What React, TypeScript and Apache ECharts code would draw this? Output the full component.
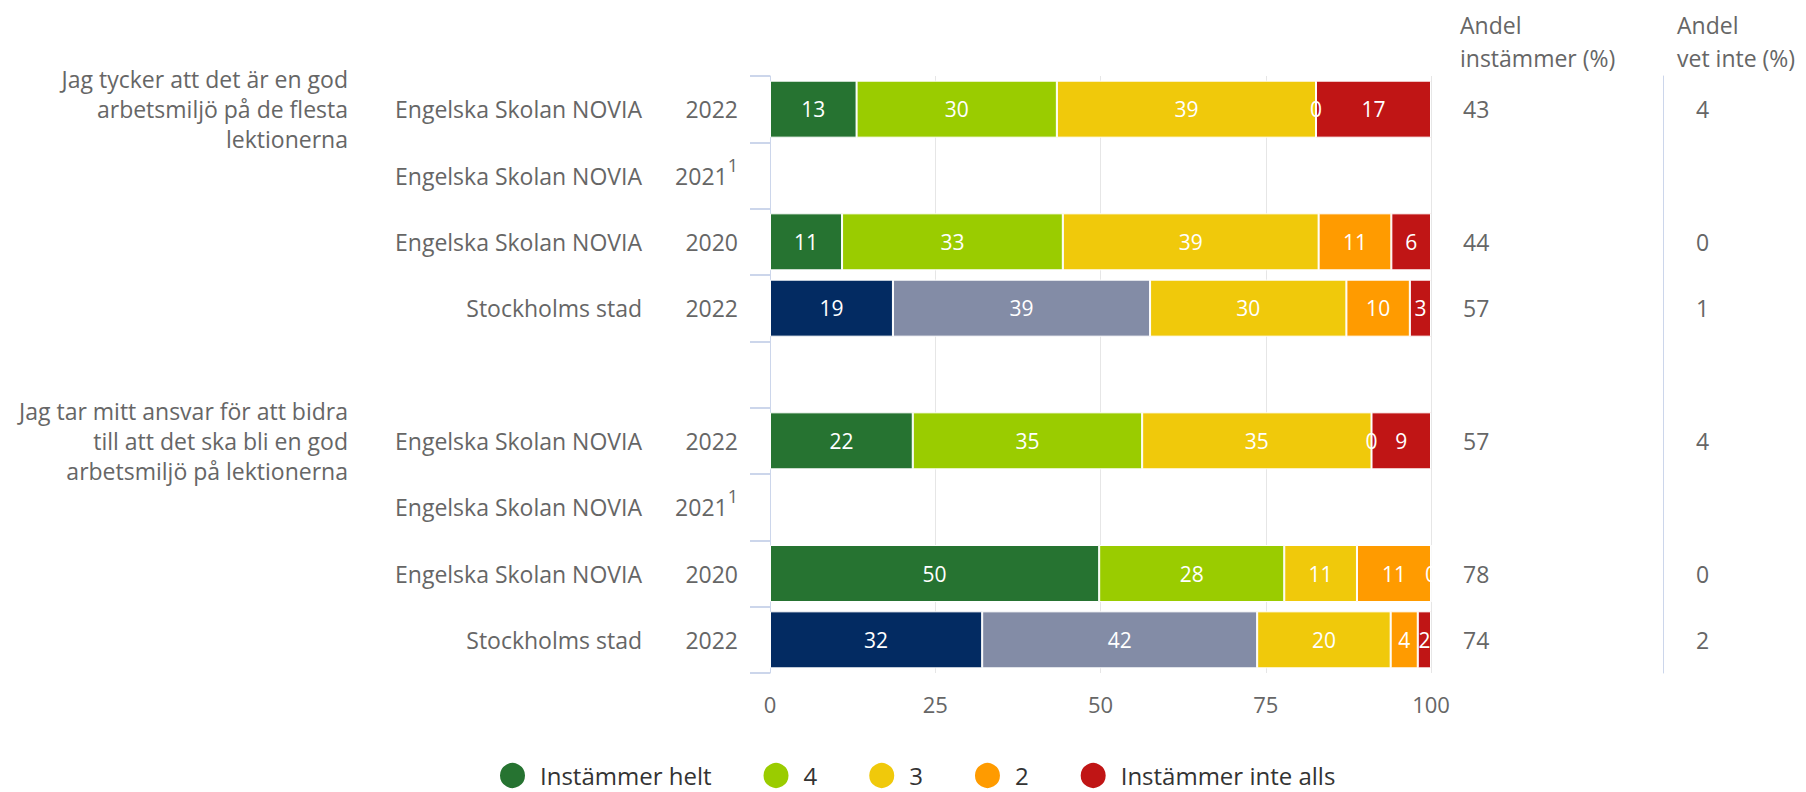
import React, { useEffect, useRef } from "react";
import * as echarts from "echarts";

const FONT = "Open Sans";
const TEXT = "#666666";

const rowKeys = ["r0", "r1", "r2", "r3", "r4", "r5", "r6", "r7", "r8"];
const groupLabels = [
  "Jag tycker att det är en god\narbetsmiljö på de flesta\nlektionerna",
  "", "", "", "",
  "Jag tar mitt ansvar för att bidra\ntill att det ska bli en god\narbetsmiljö på lektionerna",
  "", "", "",
];
const schoolLabels = [
  "Engelska Skolan NOVIA", "Engelska Skolan NOVIA", "Engelska Skolan NOVIA", "Stockholms stad", "",
  "Engelska Skolan NOVIA", "Engelska Skolan NOVIA", "Engelska Skolan NOVIA", "Stockholms stad",
];
const yearLabels = ["2022", "2021", "2020", "2022", "", "2022", "2021", "2020", "2022"];
const footnotes = ["", "1", "", "", "", "", "1", "", ""];
const agreeShare = ["43", "", "44", "57", "", "57", "", "78", "74"];
const dontKnowShare = ["4", "", "0", "1", "", "4", "", "0", "2"];

const seriesNames = ["Instämmer helt", "4", "3", "2", "Instämmer inte alls"];
const seriesColors = ["#267331", "#9acc00", "#f0c90b", "#ff9b00", "#c01515"];
const s1 = [13.1, null, 10.9, 18.6, null, 21.6, null, 49.8, 32.1];
const s2 = [30.3, null, 33.4, 38.9, null, 34.7, null, 28.0, 41.6];
const s3 = [39.2, null, 38.7, 29.7, null, 34.7, null, 11.0, 20.2];
const s4 = [0, null, 11.0, 9.6, null, 0, null, 11.2, 4.1];
const s5 = [17.4, null, 6.0, 3.2, null, 9.0, null, 0, 2.0];
const seriesValues = [s1, s2, s3, s4, s5];

// rows that are the city comparison (different colours for first two series)
const cityRows = [3, 8];
const cityColors = ["#032b62", "#838ca6"];

export default function App() {
  const ref = useRef<HTMLDivElement>(null);
  useEffect(() => {
    document.body.style.margin = "0";
    const chart = echarts.init(ref.current!, null, { renderer: "svg" });
    const catAxisBase = {
      type: "category",
      data: rowKeys,
      inverse: true,
      position: "left",
      splitLine: { show: false },
      axisLine: { show: false },
      axisTick: { show: false },
    };
    const labelBase = {
      interval: 0,
      color: TEXT,
      fontSize: 23,
      fontFamily: FONT,
    };
    const series = seriesValues.map((vals, si) => ({
      name: seriesNames[si],
      type: "bar",
      stack: "total",
      yAxisIndex: 0,
      barWidth: 57,
      itemStyle: { color: seriesColors[si], borderColor: "#ffffff", borderWidth: 1 },
      label: {
        show: true,
        position: "inside",
        color: "#ffffff",
        fontSize: 21,
        fontFamily: FONT,
        textBorderWidth: 0,
        formatter: (p: any) => String(Math.round(p.value)),
      },
      data: vals.map((v, i) => {
        if (v === null) return null;
        if (si < 2 && cityRows.includes(i)) {
          return { value: v, itemStyle: { color: cityColors[si] } };
        }
        return v;
      }),
    }));
    chart.setOption({
      animation: false,
      textStyle: { fontFamily: FONT },
      grid: {
        left: 770,
        right: 375,
        top: 76,
        bottom: 119,
        containLabel: false,
        outerBoundsMode: "none",
      },
      xAxis: {
        type: "value",
        min: 0,
        max: 100,
        interval: 25,
        axisLine: { show: false },
        axisTick: { show: false },
        splitLine: { show: true, lineStyle: { color: "#e6e6e6", width: 1 } },
        axisLabel: { color: TEXT, fontSize: 22, fontFamily: FONT, margin: 20 },
      },
      yAxis: [
        {
          ...catAxisBase,
          axisLine: { show: true, lineStyle: { color: "#ccd6eb", width: 1 } },
          axisTick: { show: true, length: 20, lineStyle: { color: "#ccd6eb", width: 2 } },
          axisLabel: {
            ...labelBase,
            margin: 32,
            formatter: (_v: any, i: number) =>
              yearLabels[i] + (footnotes[i] ? `{s|${footnotes[i]}}` : ""),
            rich: {
              s: { fontSize: 18, color: TEXT, fontFamily: FONT, padding: [0, 0, 22, 0] },
            },
          },
        },
        {
          ...catAxisBase,
          axisLabel: { ...labelBase, margin: 128, formatter: (_v: any, i: number) => schoolLabels[i] },
        },
        {
          ...catAxisBase,
          axisLabel: {
            ...labelBase,
            margin: 422,
            lineHeight: 30,
            align: "right",
            formatter: (_v: any, i: number) => groupLabels[i],
          },
        },
        {
          ...catAxisBase,
          position: "right",
          axisLabel: { ...labelBase, margin: 32, formatter: (_v: any, i: number) => agreeShare[i] },
        },
        {
          ...catAxisBase,
          position: "right",
          offset: 232,
          axisLine: { show: true, lineStyle: { color: "#ccd6eb", width: 1 } },
          axisLabel: { ...labelBase, margin: 33, formatter: (_v: any, i: number) => dontKnowShare[i] },
        },
      ],
      legend: {
        left: 498,
        top: 761,
        padding: 0,
        itemWidth: 27,
        itemHeight: 27,
        itemGap: 50,
        icon: "circle",
        data: seriesNames,
        textStyle: {
          fontSize: 24,
          lineHeight: 26,
          color: "#333333",
          fontFamily: FONT,
          padding: [0, 0, 0, 9],
        },
      },
      graphic: [
        {
          type: "text",
          left: 1460,
          top: 8,
          style: { text: "Andel\ninstämmer (%)", fontSize: 23, lineHeight: 33, fill: TEXT, fontFamily: FONT },
        },
        {
          type: "text",
          left: 1677,
          top: 8,
          style: { text: "Andel\nvet inte (%)", fontSize: 23, lineHeight: 33, fill: TEXT, fontFamily: FONT },
        },
      ],
      series,
    });
    return () => chart.dispose();
  }, []);
  return <div ref={ref} style={{ width: "1806px", height: "792px" }} />;
}
